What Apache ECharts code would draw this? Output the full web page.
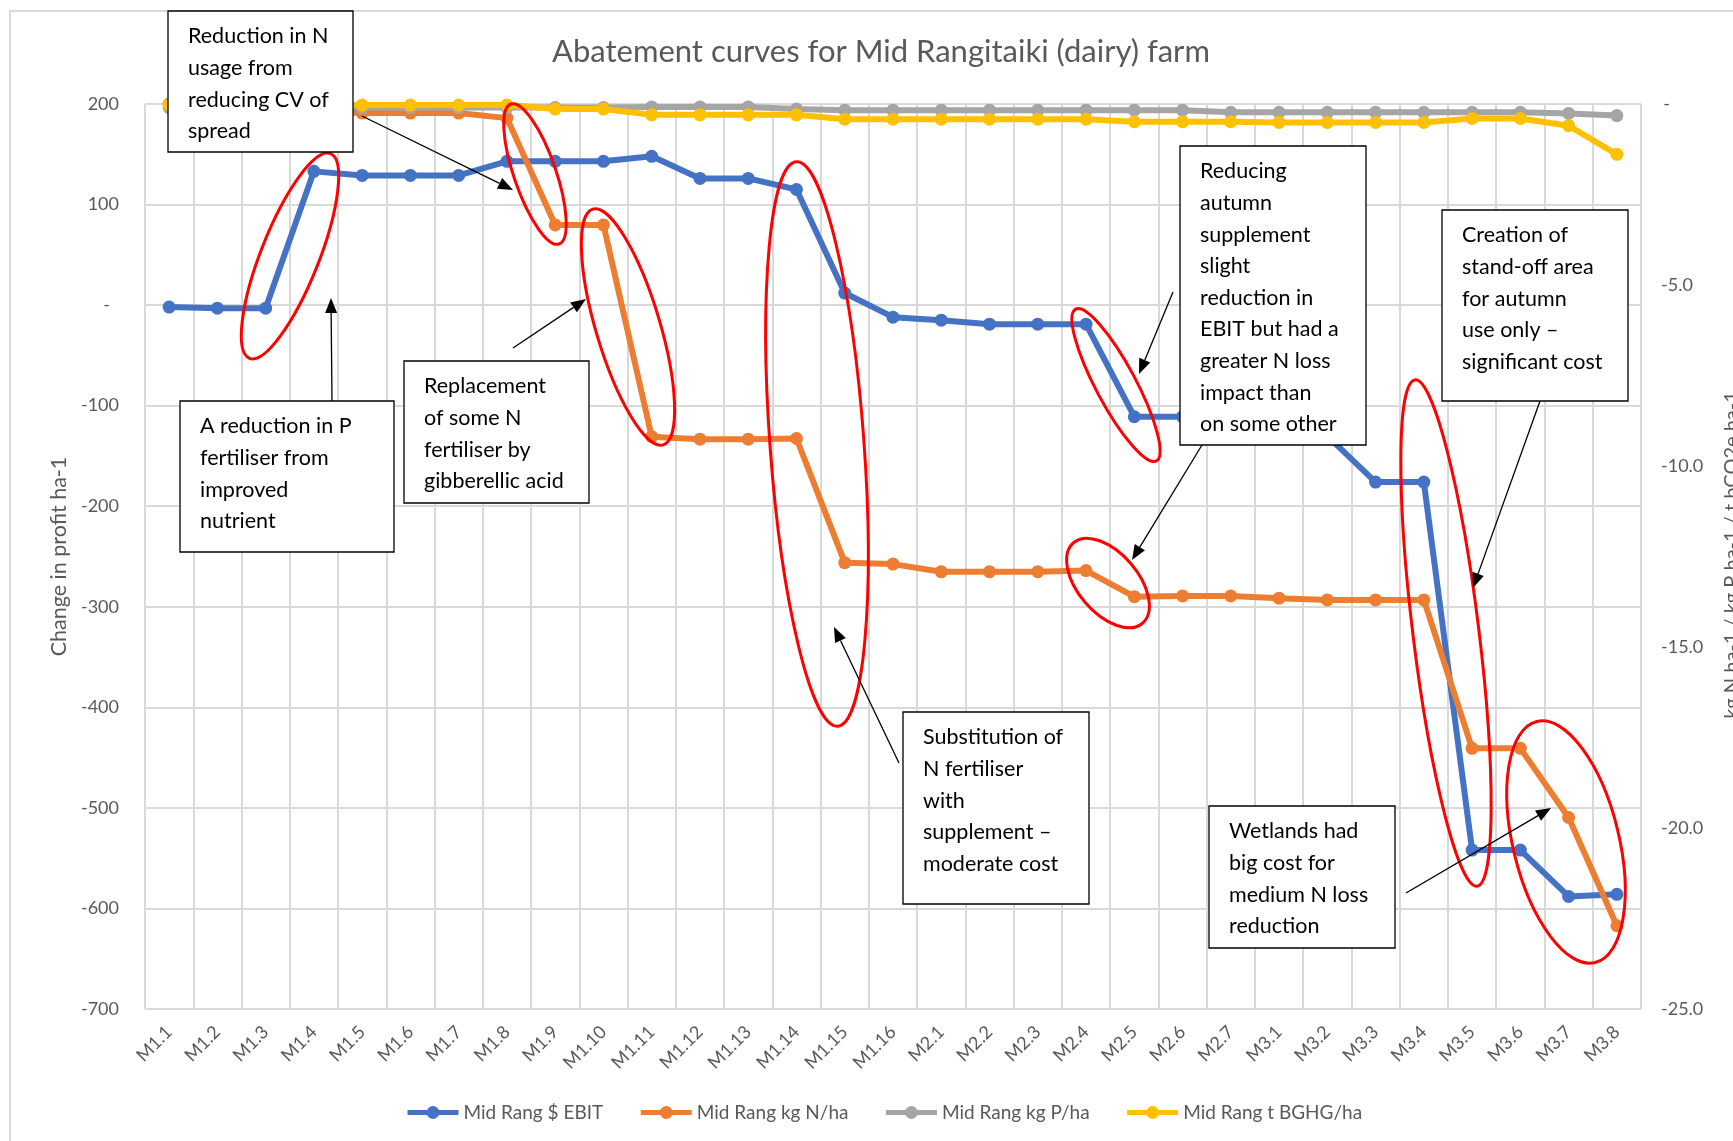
<!DOCTYPE html>
<html>
<head>
<meta charset="utf-8">
<title>Abatement curves for Mid Rangitaiki (dairy) farm</title>
<script src="https://cdn.jsdelivr.net/npm/echarts@6/dist/echarts.min.js"></script>
<style>
  html, body { margin: 0; padding: 0; background: #fff; }
  #chart { width: 1733px; height: 1141px; }
</style>
</head>
<body>
<div id="chart"></div>
<script>
(function (window) {
    'use strict';

    // categories (mitigation options)
    var categories = ['M1.1', 'M1.2', 'M1.3', 'M1.4', 'M1.5', 'M1.6', 'M1.7', 'M1.8', 'M1.9', 'M1.10',
        'M1.11', 'M1.12', 'M1.13', 'M1.14', 'M1.15', 'M1.16',
        'M2.1', 'M2.2', 'M2.3', 'M2.4', 'M2.5', 'M2.6', 'M2.7',
        'M3.1', 'M3.2', 'M3.3', 'M3.4', 'M3.5', 'M3.6', 'M3.7', 'M3.8'];

    // $ EBIT change (left axis)
    var ebit = [-2, -3, -3, 133, 129, 129, 129, 143, 143, 143,
        148, 126, 126, 115, 12, -12,
        -15, -19, -19, -19, -111, -111, -111,
        -112, -130, -176, -176, -542, -542, -588, -586];

    // kg N/ha (right axis)
    var nLoss = [0, 0, 0, -0.2, -0.25, -0.25, -0.25, -0.39, -3.34, -3.34,
        -9.19, -9.26, -9.26, -9.24, -12.67, -12.71,
        -12.92, -12.92, -12.92, -12.89, -13.61, -13.59, -13.59,
        -13.65, -13.7, -13.7, -13.7, -17.8, -17.8, -19.71, -22.7];

    // kg P/ha (right axis)
    var pLoss = [-0.1, -0.1, -0.1, -0.1, -0.1, -0.1, -0.1, -0.1, -0.1, -0.1,
        -0.08, -0.08, -0.08, -0.14, -0.17, -0.17,
        -0.17, -0.17, -0.17, -0.17, -0.17, -0.17, -0.23,
        -0.23, -0.23, -0.23, -0.23, -0.23, -0.23, -0.26, -0.32];

    // t BGHG/ha (right axis)
    var ghg = [-0.03, -0.03, -0.03, -0.03, -0.03, -0.03, -0.03, -0.03, -0.14, -0.14,
        -0.3, -0.3, -0.3, -0.3, -0.42, -0.42,
        -0.42, -0.42, -0.42, -0.42, -0.49, -0.49, -0.49,
        -0.51, -0.51, -0.51, -0.51, -0.4, -0.4, -0.6, -1.39];

    var seriesNames = ['Mid Rang $ EBIT', 'Mid Rang kg N/ha', 'Mid Rang kg P/ha', 'Mid Rang t BGHG/ha'];
    var colors = ['#4472C4', '#ED7D31', '#A5A5A5', '#FFC000'];

    var FONT = 'Lato, "Open Sans", sans-serif';
    var GREY = '#595959';

    //注释: text boxes, arrows, red ellipses (pixel layout)
    var notes = {
        boxes: [
            {x: 168, y: 11, w: 185, h: 141, lines: ['Reduction in N', 'usage from', 'reducing CV of', 'spread']},
            {x: 180, y: 401, w: 214, h: 151, lines: ['A reduction in P', 'fertiliser from', 'improved', 'nutrient']},
            {x: 404, y: 361, w: 185, h: 142, lines: ['Replacement', 'of some N', 'fertiliser by', 'gibberellic acid']},
            {x: 1180, y: 146, w: 186, h: 299, lines: ['Reducing', 'autumn', 'supplement', 'slight', 'reduction in',
                'EBIT but had a', 'greater N loss', 'impact than', 'on some other']},
            {x: 1442, y: 210, w: 186, h: 191, lines: ['Creation of', 'stand-off area', 'for autumn', 'use only \u2013', 'significant cost']},
            {x: 903, y: 712, w: 186, h: 192, lines: ['Substitution of', 'N fertiliser', 'with', 'supplement \u2013', 'moderate cost']},
            {x: 1209, y: 806, w: 186, h: 142, lines: ['Wetlands had', 'big cost for', 'medium N loss', 'reduction']}
        ],
        arrows: [
            [362, 116, 513, 190],
            [332, 401, 331, 298],
            [513, 348, 586, 299],
            [1173, 292, 1139, 374],
            [1202, 445, 1132, 560],
            [899, 763, 834, 627],
            [1540, 401, 1473, 588],
            [1406, 893, 1551, 808]
        ],
        // cx, cy, rx, ry, angle (deg, counter-clockwise)
        ellipses: [
            [290, 256, 110, 29, 68.4],
            [535, 174, 74, 21, 109],
            [628, 327, 123, 32, 106.6],
            [817, 444, 283, 47, 94.2],
            [1116, 385, 86, 20, 118],
            [1108, 583, 53, 30, 130.6],
            [1446, 633, 255, 33, 97],
            [1566, 842, 124, 53, 103.6]
        ]
    };

    function buildGraphics() {
        var g = [];
        g.push({
            type: 'rect', silent: true, z: 1,
            shape: {x: 10, y: 11, width: 1800, height: 1200},
            style: {fill: 'none', stroke: '#d9d9d9', lineWidth: 2}
        });
        notes.ellipses.forEach(function (e) {
            g.push({
                type: 'ellipse', silent: true, z: 100,
                x: e[0], y: e[1], rotation: e[4] * Math.PI / 180,
                shape: {cx: 0, cy: 0, rx: e[2], ry: e[3]},
                style: {fill: 'none', stroke: '#ff0000', lineWidth: 3}
            });
        });
        notes.arrows.forEach(function (a) {
            var dx = a[2] - a[0], dy = a[3] - a[1];
            var len = Math.sqrt(dx * dx + dy * dy);
            var ux = dx / len, uy = dy / len;
            var hl = 15, hw = 6;
            var bx = a[2] - ux * hl, by = a[3] - uy * hl;
            g.push({
                type: 'line', silent: true, z: 101,
                shape: {x1: a[0], y1: a[1], x2: bx, y2: by},
                style: {stroke: '#000', lineWidth: 1.3}
            });
            g.push({
                type: 'polygon', silent: true, z: 101,
                shape: {points: [[a[2], a[3]], [bx - uy * hw, by + ux * hw], [bx + uy * hw, by - ux * hw]]},
                style: {fill: '#000'}
            });
        });
        notes.boxes.forEach(function (b) {
            g.push({
                type: 'rect', silent: true, z: 102,
                shape: {x: b.x, y: b.y, width: b.w, height: b.h},
                style: {fill: '#fff', stroke: '#000', lineWidth: 1.3}
            });
            g.push({
                type: 'text', silent: true, z: 103,
                x: b.x + 20, y: b.y + 9.7,
                style: {
                    text: b.lines.join('\n'),
                    fontFamily: FONT, fontSize: 21.5, lineHeight: 31.6,
                    fill: '#000', align: 'left', verticalAlign: 'top'
                }
            });
        });
        // right axis title, cut by the picture edge
        g.push({
            type: 'text', silent: true, z: 5,
            x: 1742, y: 555, rotation: Math.PI / 2,
            style: {
                text: 'kg N ha-1 / kg P ha-1 / t bCO2e ha-1',
                fontFamily: FONT, fontSize: 20, fill: GREY,
                align: 'center', verticalAlign: 'bottom'
            }
        });
        return g;
    }

    function buildSeries() {
        var data = [ebit, nLoss, pLoss, ghg];
        return data.map(function (d, i) {
            return {
                name: seriesNames[i],
                type: 'line',
                yAxisIndex: i === 0 ? 0 : 1,
                data: d,
                symbol: 'circle',
                symbolSize: 13,
                showAllSymbol: true,
                lineStyle: {width: 6, color: colors[i]},
                itemStyle: {color: colors[i]},
                emphasis: {disabled: true},
                z: 2 + i
            };
        });
    }

    var option = {
        animation: false,
        backgroundColor: '#fff',
        color: colors,
        title: {
            text: 'Abatement curves for Mid Rangitaiki (dairy) farm',
            left: 552, top: 36, padding: 0,
            textStyle: {fontFamily: FONT, fontSize: 31, fontWeight: 'normal', color: GREY}
        },
        legend: {
            data: seriesNames,
            left: 405, top: 1103, padding: 0,
            itemWidth: 51, itemHeight: 16, itemGap: 35,
            lineStyle: {width: 5},
            textStyle: {fontFamily: FONT, fontSize: 19, color: GREY}
        },
        grid: {left: 145, right: 92, top: 104, bottom: 132, containLabel: false, outerBoundsMode: 'none'},
        xAxis: {
            type: 'category',
            data: categories,
            boundaryGap: true,
            axisLine: {show: true, lineStyle: {color: '#d9d9d9', width: 2}},
            axisTick: {show: false},
            splitLine: {show: true, lineStyle: {color: '#d9d9d9', width: 2}},
            axisLabel: {
                interval: 0, rotate: 45, margin: 20,
                fontFamily: FONT, fontSize: 18, color: GREY
            }
        },
        yAxis: [{
            type: 'value',
            position: 'left',
            min: -700, max: 200, interval: 100,
            name: 'Change in profit ha-1',
            nameLocation: 'middle', nameRotate: 90, nameGap: 73,
            nameTextStyle: {fontFamily: FONT, fontSize: 21.5, color: GREY},
            axisLine: {show: false},
            axisTick: {show: false},
            splitLine: {show: true, lineStyle: {color: '#d9d9d9', width: 2}},
            axisLabel: {
                margin: 26, fontFamily: FONT, fontSize: 18, color: GREY,
                formatter: function (v) { return v === 0 ? '-\u2002' : String(v); }
            }
        }, {
            type: 'value',
            position: 'right',
            min: -25, max: 0, interval: 5,
            axisLine: {show: false},
            axisTick: {show: false},
            splitLine: {show: false},
            axisLabel: {
                margin: 20, fontFamily: FONT, fontSize: 18, color: GREY,
                formatter: function (v) { return v === 0 ? '\u2009-' : v.toFixed(1); }
            }
        }],
        series: buildSeries(),
        graphic: {elements: buildGraphics()}
    };

    var chart = echarts.init(document.getElementById('chart'), null, {renderer: 'canvas'});
    chart.setOption(option);
    window.chart = chart;
})(window);
</script>
</body>
</html>
